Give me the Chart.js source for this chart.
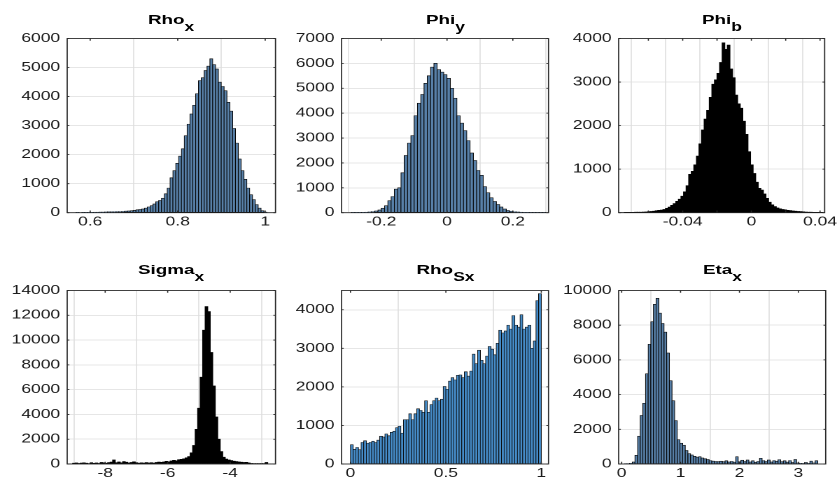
<!DOCTYPE html>
<html><head><meta charset="utf-8">
<script src="https://cdn.jsdelivr.net/npm/chart.js@4.4.1/dist/chart.umd.min.js"></script>
<style>
html,body{margin:0;padding:0;background:#fff;overflow:hidden;width:837px;height:486px;}
#fig{position:absolute;left:0;top:0;width:598px;height:486px;transform-origin:0 0;}
#fig canvas{position:absolute;}
.ttl{position:absolute;width:200px;text-align:center;font-family:"Liberation Sans",Arial,Helvetica,sans-serif;font-weight:bold;font-size:13.5px;line-height:13px;color:#000;white-space:nowrap;}
.ttl .s{font-size:12.5px;vertical-align:-7px;}
</style></head><body><div id="fig"></div>
<script>
// ---------------- data ----------------
const rhoXStart = 0.5485, rhoXWidth = 0.0065;
const rhoXCounts = [0,0,0,10,0,5,8,10,12,15,18,20,22,25,28,30,35,38,40,45,55,60,70,80,100,110,130,160,200,240,300,380,420,500,650,850,1200,1450,1700,1950,2200,2650,3050,3400,3700,4100,4550,4650,4900,5050,5300,5100,4950,4500,4350,4200,3800,3500,2900,2400,1850,1450,1150,850,620,450,280,160,70,20,0,0];
const rhoXTicks = [0.6,0.8,1];
const rhoXTickLabels = ['0.6','0.8','1'];
const rhoXYTicks = [0,1000,2000,3000,4000,5000,6000];

const phiYStart = -0.32, phiYWidth = 0.01;
const phiYCounts = [0,0,0,5,10,12,15,20,30,45,70,110,180,280,480,650,950,1000,1600,2300,2800,3100,3900,4400,4750,5200,5500,5850,6000,5750,5650,5550,5400,5000,4600,3900,3600,3300,2900,2400,2100,1700,1500,1050,800,600,450,330,230,150,90,60,40,30,20,15,10,8,5,5,3,2,0];
const phiYTicks = [-0.2,0,0.2];
const phiYTickLabels = ['-0.2','0','0.2'];
const phiYYTicks = [0,1000,2000,3000,4000,5000,6000,7000];

const phiBStart = -0.077, phiBWidth = 0.0015;
const phiBCounts = [0,0,2,3,5,8,10,10,12,15,18,22,28,35,45,55,60,75,100,130,170,210,260,310,380,480,620,880,950,1100,1300,1580,1900,2150,2350,2650,2950,3050,3200,3450,3900,3750,3850,3300,3100,2700,2500,2400,2100,1800,1400,1100,900,700,560,520,430,330,240,180,140,110,90,75,65,55,48,40,35,30,25,20,15,12,10,8,6,4,2,0];
const phiBTicks = [-0.06,-0.04,-0.02,0,0.02,0.04];
const phiBTickLabels = ['','-0.04','','0','','0.04'];
const phiBYTicks = [0,1000,2000,3000,4000];

const sigmaXStart = -9.2, sigmaXWidth = 0.08;
const sigmaXCounts = [0,0,60,80,40,70,90,60,30,100,50,80,40,120,90,60,110,150,330,100,160,90,200,140,80,120,180,100,60,90,70,110,80,100,70,120,150,130,170,220,180,250,300,260,350,380,420,500,600,900,1500,2800,4500,7000,10800,12700,12300,9000,6300,3800,2000,1000,550,400,330,280,230,200,160,140,120,130,80,40,30,20,15,10,5,120,0,0,0];
const sigmaXTicks = [-8,-6,-4];
const sigmaXTickLabels = ['-8','-6','-4'];
const sigmaXYTicks = [0,2000,4000,6000,8000,10000,12000,14000];

const rhoSxStart = 0, rhoSxWidth = 1/72;
const rhoSxCounts = [500,380,430,370,560,600,540,560,590,560,620,720,700,780,730,820,850,940,980,800,1150,1150,1300,1150,1300,1430,1390,1340,1640,1340,1540,1640,1710,1640,1680,2010,1940,2150,2240,2180,2300,2310,2240,2390,2280,2410,2850,2600,2950,2690,2600,2800,3050,2980,2830,3130,3470,3400,3450,3600,3500,3850,3600,3550,3870,3500,3550,3600,3000,3190,4240,4420];
const rhoSxTicks = [0,0.5,1];
const rhoSxTickLabels = ['0','0.5','1'];
const rhoSxYTicks = [0,1000,2000,3000,4000];

const etaXStart = 0, etaXWidth = 0.045;
const etaXCounts = [0,10,20,40,120,500,1600,2800,3500,5200,6900,8200,9200,9550,8700,8100,7600,6400,4800,3650,2500,1400,1200,1080,780,600,520,440,400,420,350,300,260,200,170,150,140,160,130,180,120,150,110,420,130,220,150,230,120,180,100,150,330,200,150,230,120,200,160,250,130,180,110,200,90,260,60,40,30,90,40,170,60,190,0,0];
const etaXTicks = [0,1,2,3];
const etaXTickLabels = ['0','1','2','3'];
const etaXYTicks = [0,2000,4000,6000,8000,10000];

// ---------------- layout / style ----------------
const SX = 837/598;
const FONT = '"Liberation Sans", Arial, Helvetica, sans-serif';
const fig = document.getElementById('fig');
fig.style.transform = 'scale(' + SX + ',1)';

const BLUE = {fill:'rgb(88,128,168)', edge:'#050505', bw:0.6};
const BLUE2 = {fill:'rgb(70,140,200)', edge:'#0a0a0a', bw:0.55};
const BLACK = {fill:'#000000', edge:'#000000', bw:0};

const panels = [
  {title:'Rho', sub:'x', counts:rhoXCounts, start:rhoXStart, width:rhoXWidth, xMin:0.5474, xMax:1.0235, xTicks:rhoXTicks, xLabels:rhoXTickLabels, yMax:6000, yTicks:rhoXYTicks, box:[67,275.3,36,212.7], tb:24.3, st:BLUE},
  {title:'Phi', sub:'y', counts:phiYCounts, start:phiYStart, width:phiYWidth, xMin:-0.3207, xMax:0.3085, xTicks:phiYTicks, xLabels:phiYTickLabels, yMax:7000, yTicks:phiYYTicks, box:[342,549,36,212.7], tb:24.3, st:BLUE},
  {title:'Phi', sub:'b', counts:phiBCounts, start:phiBStart, width:phiBWidth, xMin:-0.0773, xMax:0.0427, xTicks:phiBTicks, xLabels:phiBTickLabels, yMax:4000, yTicks:phiBYTicks, box:[619,825,36,212.7], tb:24.3, st:BLACK},
  {title:'Sigma', sub:'x', counts:sigmaXCounts, start:sigmaXStart, width:sigmaXWidth, xMin:-9.216, xMax:-2.55, xTicks:sigmaXTicks, xLabels:sigmaXTickLabels, yMax:14000, yTicks:sigmaXYTicks, box:[67,275.3,288.3,464.3], tb:274.3, st:BLACK},
  {title:'Rho', sub:'Sx', counts:rhoSxCounts, start:rhoSxStart, width:rhoSxWidth, xMin:-0.047, xMax:1.038, xTicks:rhoSxTicks, xLabels:rhoSxTickLabels, yMax:4500, yTicks:rhoSxYTicks, box:[342,549,288.3,464.3], tb:274.3, st:BLUE2},
  {title:'Eta', sub:'x', counts:etaXCounts, start:etaXStart, width:etaXWidth, xMin:-0.051, xMax:3.464, xTicks:etaXTicks, xLabels:etaXTickLabels, yMax:10000, yTicks:etaXYTicks, box:[619,826,288.3,464.3], tb:274.3, st:BLUE}
];

const boxPlugin = {
  id: 'matlabBox',
  afterDraw(chart) {
    const {ctx, chartArea: a, scales} = chart;
    const x = scales.x, y = scales.y;
    ctx.save();
    ctx.strokeStyle = '#262626';
    ctx.lineWidth = 0.8;
    ctx.beginPath();
    const tlx = 2.2, tly = 2.2 / SX;
    x.ticks.forEach(t => {
      const px = x.getPixelForValue(t.value);
      ctx.moveTo(px, a.bottom); ctx.lineTo(px, a.bottom - tlx);
      ctx.moveTo(px, a.top); ctx.lineTo(px, a.top + tlx);
    });
    y.ticks.forEach(t => {
      const py = y.getPixelForValue(t.value);
      ctx.moveTo(a.left, py); ctx.lineTo(a.left + tly, py);
      ctx.moveTo(a.right, py); ctx.lineTo(a.right - tly, py);
    });
    ctx.stroke();
    ctx.lineWidth = 0.85;
    ctx.strokeRect(a.left, a.top, a.right - a.left, a.bottom - a.top);
    ctx.restore();
  }
};

const YW = 50, PT = 10, XH = 24, PRMIN = 16;

panels.forEach(p => {
  const L = p.box[0] / SX, R = p.box[1] / SX, T = p.box[2], B = p.box[3];
  const pw = R - L, ph = B - T;
  const w = Math.round(pw + YW + PRMIN), h = Math.round(ph + PT + XH);
  const cv = document.createElement('canvas');
  cv.width = w; cv.height = h;
  cv.style.width = w + 'px'; cv.style.height = h + 'px';
  cv.style.left = (L - YW) + 'px';
  cv.style.top = (T - PT) + 'px';
  fig.appendChild(cv);
  const padR = w - YW - pw;
  const padB = h - PT - ph - XH;

  const data = p.counts.map((c, i) => ({x: p.start + (i + 0.5) * p.width, y: c}));
  const yLabels = p.yTicks.map(String);

  new Chart(cv, {
    type: 'bar',
    data: {datasets: [{
      data: data,
      backgroundColor: p.st.fill,
      borderColor: p.st.edge,
      borderWidth: p.st.bw,
      borderSkipped: false,
      barPercentage: 1,
      categoryPercentage: 1
    }]},
    options: {
      responsive: false,
      animation: false,
      devicePixelRatio: 2,
      layout: {padding: {left: 0, top: PT, right: padR, bottom: padB}},
      plugins: {legend: {display: false}, tooltip: {enabled: false}, title: {display: false}},
      scales: {
        x: {
          type: 'linear', min: p.xMin, max: p.xMax, offset: false, bounds: 'data',
          afterBuildTicks: s => { s.ticks = p.xTicks.map(v => ({value: v})); },
          afterFit: s => { s.height = XH; },
          ticks: {autoSkip: false, maxRotation: 0, padding: 2, color: '#1c1c1c',
                  font: {family: FONT, size: 12.5}, callback: (v, i) => p.xLabels[i]},
          grid: {color: '#dedede', lineWidth: 0.8, drawTicks: false},
          border: {display: false}
        },
        y: {
          type: 'linear', min: 0, max: p.yMax, bounds: 'data',
          afterBuildTicks: s => { s.ticks = p.yTicks.map(v => ({value: v})); },
          afterFit: s => { s.width = YW; },
          ticks: {autoSkip: false, padding: 5, color: '#1c1c1c',
                  font: {family: FONT, size: 12.5}, callback: (v, i) => yLabels[i]},
          grid: {color: '#dedede', lineWidth: 0.8, drawTicks: false},
          border: {display: false}
        }
      }
    },
    plugins: [boxPlugin]
  });

  const t = document.createElement('div');
  t.className = 'ttl';
  t.style.left = ((L + R) / 2 - 100) + 'px';
  t.style.top = (p.tb - 11.4) + 'px';
  t.innerHTML = p.title + '<span class="s">' + p.sub + '</span>';
  fig.appendChild(t);
});
</script>
</body></html>
